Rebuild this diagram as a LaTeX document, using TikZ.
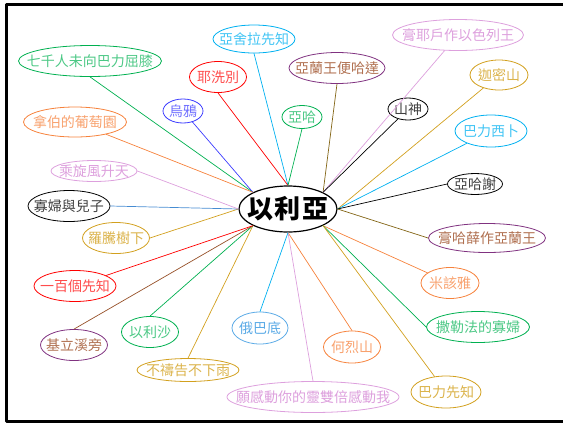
\documentclass[tikz,border=0pt]{standalone}
\usepackage{fontspec}
\setmainfont{Noto Sans CJK TC}
\usetikzlibrary{shapes.geometric}
\definecolor{cyb}{RGB}{0,176,240}
\definecolor{grb}{RGB}{0,176,80}
\definecolor{rdb}{RGB}{255,0,0}
\definecolor{blb}{RGB}{60,60,255}
\definecolor{orb}{RGB}{246,130,60}
\definecolor{pub}{RGB}{128,50,128}
\definecolor{brt}{RGB}{176,112,80}
\definecolor{olv}{RGB}{130,100,20}
\definecolor{snn}{RGB}{150,80,40}
\definecolor{plb}{RGB}{221,160,221}
\definecolor{gdb}{RGB}{210,160,30}
\definecolor{obb}{RGB}{90,170,230}
\definecolor{stb}{RGB}{70,140,210}
\tikzset{
  bub/.style 2 args={ellipse, draw, line width=0.8pt, minimum width=#1, minimum height=#2, inner sep=-20pt},
  cy/.style={draw=cyb, text=cyb!75},
  gr/.style={draw=grb, text=grb!70},
  rd/.style={draw=rdb, text=rdb!70},
  bl/.style={draw=blb, text=blb!75},
  or/.style={draw=orb, text=orb!75},
  pu/.style={draw=pub, text=brt},
  pl/.style={draw=plb, text=plb},
  gd/.style={draw=gdb, text=gdb!80},
  bk/.style={draw=black, text=black!75},
  ob/.style={draw=obb, text=obb}
}
\begin{document}
\begin{tikzpicture}[x=1pt, y=-1pt, font=\fontsize{14}{16}\selectfont, line cap=round, line join=round]
\useasboundingbox (0,0) rectangle (563,424);
\draw[line width=2.8pt] (563,4.8)--(6.5,4.8)--(6.5,421.8)--(563,421.8);

\node[ellipse, draw, line width=1.2pt, minimum width=98, minimum height=46, inner sep=-20pt, font=\fontsize{26}{28}\selectfont\bfseries] (ely) at (288,209) {以\hspace{2pt}利\hspace{2pt}亞};

\node[bub={82}{28}, cy] (asr) at (254,39) {亞舍拉先知};
\node[bub={143}{31}, gr] (qiq) at (90,61) {七千人未向巴力屈膝};
\node[bub={57}{31}, rd] (jez) at (218,77) {耶洗別};
\node[bub={40}{24}, bl] (rav) at (183,111) {烏鴉};
\node[bub={103}{30}, or] (nab) at (75,122) {拿伯的葡萄園};
\node[bub={40}{23}, gr] (ahb) at (302,117) {亞哈};
\node[bub={96}{31}, pu] (bhd) at (337,68) {亞蘭王便哈達};
\node[bub={131}{31}, pl] (jehu) at (458,35) {膏耶戶作以色列王};
\node[bub={58}{30}, gd] (crm) at (499,75) {迦密山};
\node[bub={40}{22}, bk] (shs) at (408,109) {山神};
\node[bub={72}{32}, cy] (blz) at (491,131) {巴力西卜};
\node[bub={55}{21}, bk] (ahz) at (475,184) {亞哈謝};
\node[bub={117}{29}, pu] (hzl) at (487,238) {膏哈薛作亞蘭王};
\node[bub={58}{31}, or] (mic) at (450,283) {米該雅};
\node[bub={103}{31}, gr] (zar) at (478,327) {撒勒法的寡婦};
\node[bub={57}{32}, or] (hrb) at (352,347) {何烈山};
\node[bub={70}{32}, gd] (bpr) at (446,392) {巴力先知};
\node[bub={172}{31}, pl] (dbl) at (313,397) {願感動你的靈雙倍感動我};
\node[bub={56}{32}, ob] (oba) at (260,328) {俄巴底};
\node[bub={102}{23}, gd] (nrn) at (188,370) {不禱告不下雨};
\node[bub={57}{31}, gr] (els) at (150,332) {以利沙};
\node[bub={67}{31}, pu] (chr) at (74,345) {基立溪旁};
\node[bub={82}{31}, rd] (hun) at (75,286) {一百個先知};
\node[bub={67}{31}, gd] (brm) at (116,238) {羅騰樹下};
\node[bub={82}{31}, bk] (wid) at (69,206) {寡婦與兒子};
\node[bub={86}{21}, pl] (wnd) at (94,171) {乘旋風升天};

\foreach \a/\b/\c in {north/asr.south/cyb, north west/qiq.south/grb, north/jez.south/rdb,
  north west/rav/blb, north west/nab/orb, north/ahb.south/grb, north east/bhd.south/olv,
  north east/jehu/plb, east/crm/gdb, north east/shs/black, east/blz/cyb, east/ahz.west/black,
  east/hzl.west/olv, south east/mic/orb, south east/zar.west/grb, south/hrb.north/orb,
  south east/bpr/gdb, south/dbl.north/plb, south/oba.north/cyb, south west/nrn.north/gdb,
  south west/els.north/grb, south west/chr.north/snn, south west/hun/rdb,
  west/brm.east/gdb, west/wid.east/stb, west/wnd.east/plb}
\draw[\c, line width=0.7pt] (ely.\a) -- (\b);
\end{tikzpicture}
\end{document}
